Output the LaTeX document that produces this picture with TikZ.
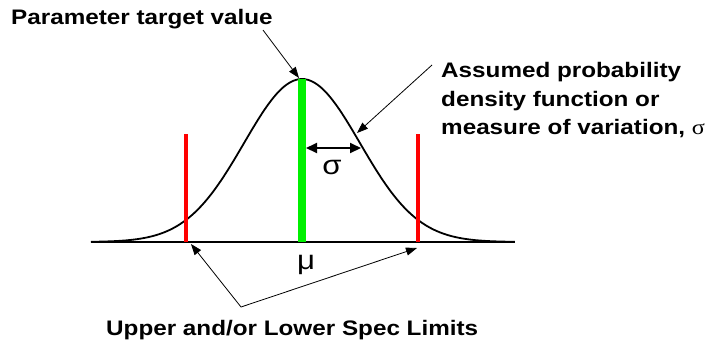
\documentclass[tikz,border=0pt]{standalone}
\usepackage{fontspec}
\setmainfont[FakeStretch=1.155]{Liberation Sans}
\newfontfamily\symfont[FakeStretch=1.155]{Liberation Serif}
\usetikzlibrary{arrows.meta}
\definecolor{tgreen}{RGB}{0,240,0}
\begin{document}
\begin{tikzpicture}[x=1pt,y=-1pt,
  lbl/.style={font=\fontsize{21}{28.5}\selectfont\bfseries, inner sep=0pt},
  greek/.style={font=\fontsize{27}{30}\selectfont, inner sep=0pt},
  pointer/.style={line width=0.8pt, -{Triangle[length=11pt,width=8pt]}},
  curve/.style={line width=1.8pt, black},
]
\useasboundingbox (0,0) rectangle (715,341);
% baseline
\coordinate (bl) at (91,242);
\coordinate (br) at (515,242);
\draw[line width=2pt] (bl) -- (br);
% gaussian
\draw[curve] plot[domain=-3.64:3.67, samples=120, smooth] ({302+58*\x},{242-163*exp(-\x*\x/2)});
% target line
\coordinate (gtop) at (302,79);
\coordinate (gbot) at (302,242);
\draw[tgreen, line width=8pt] (gbot) -- (gtop);
% spec limits
\coordinate (ltop) at (186,134);
\coordinate (lbot) at (186,242);
\coordinate (rtop) at (418,134);
\coordinate (rbot) at (418,242);
\draw[red, line width=3.2pt] (lbot) -- (ltop);
\draw[red, line width=3.2pt] (rbot) -- (rtop);
% sigma arrow
\coordinate (s1) at (306,148);
\coordinate (s2) at (361,148);
\draw[line width=2pt, {Triangle[length=11pt,width=10pt]}-{Triangle[length=11pt,width=10pt]}] (s1) -- (s2);
\node[greek] (sig) at (332,167) {σ};
\node[greek] (mu) at (306,265) {μ};
% labels
\node[lbl, anchor=base west] (ptv) at (11,24) {Parameter target value};
\node[lbl, anchor=base west] (usl) at (106,335) {Upper and/or Lower Spec Limits};
\node[lbl, anchor=north west, align=left] (apdf) at (441,62.5) {Assumed probability\\density function or\\measure of variation, {\mdseries\symfont σ}};
% pointers
\coordinate (p0) at (263,30);
\coordinate (peak) at (299,78);
\draw[pointer] (p0) -- (peak);
\coordinate (a0) at (432,65);
\coordinate (aon) at (357,133);
\draw[pointer] (a0) -- (aon);
\coordinate (v) at (241,307);
\coordinate (lt) at (191,244);
\coordinate (rt) at (417,248);
\draw[pointer] (v) -- (lt);
\draw[pointer] (v) -- (rt);
\end{tikzpicture}
\end{document}
